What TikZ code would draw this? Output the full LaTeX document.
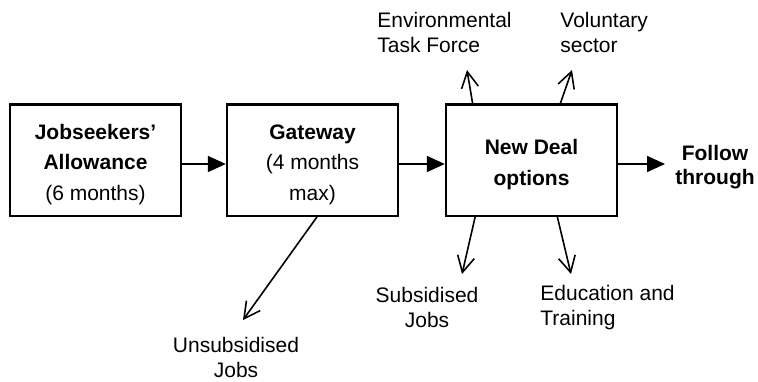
\documentclass[tikz,border=0pt]{standalone}
\usepackage{fontspec}
\setmainfont{Liberation Sans}
\usepackage{tikz}
\usetikzlibrary{arrows.meta, positioning, calc}

\newcommand{\topstrut}{\rule{0pt}{12pt}}

\begin{document}
\begin{tikzpicture}[x=0.5pt,y=-0.5pt,
                    box/.style={rectangle,draw,line width=1.2pt,minimum width=85.5pt,minimum height=55.7pt,align=center,
                                font=\fontsize{10.5}{15.3}\selectfont},
                    lbl/.style={inner sep=0pt,font=\fontsize{10.5}{12.5}\selectfont},
                    flow/.style={-{Triangle[length=9pt,width=8pt]},line width=0.8pt},
                    side/.style={-{Straight Barb[length=8pt,width=8.5pt]},line width=0.8pt}]

  \useasboundingbox (0,0) rectangle (758,381);

  \node[box] (jsa) at (95.5,160) {\topstrut\textbf{Jobseekers’}\\\textbf{Allowance}\\(6 months)};
  \node[box] (gate) [right=21.8pt of jsa] {\topstrut\textbf{Gateway}\\(4 months\\max)};
  \node[box] (opts) [right=22.8pt of gate] {\topstrut\textbf{New Deal}\\\textbf{options}};
  \node[lbl,align=center,font=\fontsize{10.5}{12}\selectfont\bfseries] (follow) [right=28.4pt of opts,yshift=-3.75pt] {Follow\\through};

  \node[lbl,align=left,anchor=west] (env) at (377,32.5) {Environmental\\Task Force};
  \node[lbl,align=left,anchor=west] (vol) at (560,32.5) {Voluntary\\sector};
  \node[lbl,align=center] (sub) at (427,307.5) {Subsidised\\Jobs};
  \node[lbl,align=left,anchor=west] (edu) at (540,307.5) {Education and\\Training};
  \node[lbl,align=center] (unsub) at (236,357.5) {Unsubsidised\\Jobs};

  % arrow tips next to the outside labels
  \coordinate (envtip) at (467,70);
  \coordinate (voltip) at (572,70);
  \coordinate (subtip) at (462,274);
  \coordinate (edutip) at (571,274);
  \coordinate (unsubtip) at (243,320);
  \coordinate (optsout) at ([yshift=-2pt]opts.east);

  \draw[flow] ([yshift=-2pt]jsa.east) -- ([yshift=-2pt]gate.west);
  \draw[flow] ([yshift=-2pt]gate.east) -- ([yshift=-2pt]opts.west);
  \draw[flow,shorten >=5pt] (optsout) -- (optsout -| follow.west);

  \draw[side] ($(opts.north west)!0.16!(opts.north east)$) -- (envtip);
  \draw[side] ($(opts.north west)!0.667!(opts.north east)$) -- (voltip);
  \draw[side] ($(opts.south west)!0.175!(opts.south east)$) -- (subtip);
  \draw[side] ($(opts.south west)!0.649!(opts.south east)$) -- (edutip);
  \draw[side] ($(gate.south west)!0.526!(gate.south east)$) -- (unsubtip);
\end{tikzpicture}
\end{document}
